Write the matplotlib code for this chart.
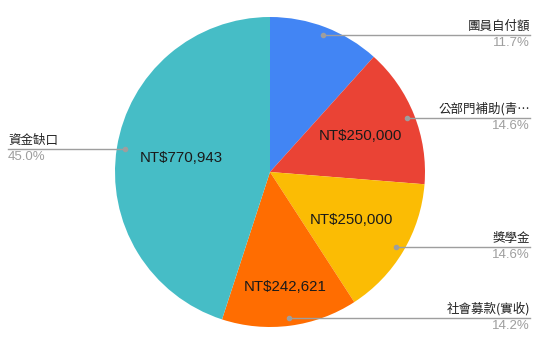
import matplotlib.pyplot as plt
import numpy as np

plt.rcParams['font.family'] = ['Noto Sans CJK TC', 'DejaVu Sans']

labels = ['團員自付額', '公部門補助(青…', '獎學金', '社會募款(實收)', '資金缺口']
amounts = [200000, 250000, 250000, 242621, 770943]
colors = ['#4285F4', '#EA4335', '#FBBC04', '#FF6D01', '#46BDC6']
# which slices get the amount printed inside, and how far out
inner_dist = [None, 0.63, 0.61, 0.75, 0.58]

R = 155  # pie radius, in pixels

fig = plt.figure(figsize=(5.35, 3.39), dpi=100)
ax = fig.add_axes([0, 0, 1, 1])

wedges, _ = ax.pie(amounts, colors=colors, radius=R, center=(0, -2),
                   startangle=90, counterclock=False, frame=True)
ax.set_xlim(-270, 265)
ax.set_ylim(-169, 170)
ax.axis('off')

total = sum(amounts)
for w, name, amt, d in zip(wedges, labels, amounts, inner_dist):
    mid = np.deg2rad((w.theta1 + w.theta2) / 2)
    cx, cy = w.center
    if d is not None:
        ax.text(cx + d * R * np.cos(mid), cy + d * R * np.sin(mid),
                f'NT${amt:,}', ha='center', va='center',
                fontsize=10.8, family='Liberation Sans', color='#1a1a1a')

    # leader line from a dot inside the slice out to the edge
    px = cx + 0.95 * R * np.cos(mid)
    py = cy + 0.95 * R * np.sin(mid)
    pct = f'{amt / total * 100:.1f}%'
    if px >= 0:
        xend = 260
        ha = 'right'
    else:
        xend = -262
        ha = 'left'
    ax.plot([px, xend], [py, py], color='#9e9e9e', lw=1, clip_on=False)
    ax.plot(px, py, 'o', color='#9e9e9e', ms=3, clip_on=False)
    ax.text(xend, py + 2, name, ha=ha, va='bottom', fontsize=9, color='#222222')
    ax.text(xend, py - 2, pct, ha=ha, va='top', fontsize=9.5,
            family=['Liberation Sans', 'DejaVu Sans'], color='#9e9e9e')

plt.savefig('out.png', dpi=100)
